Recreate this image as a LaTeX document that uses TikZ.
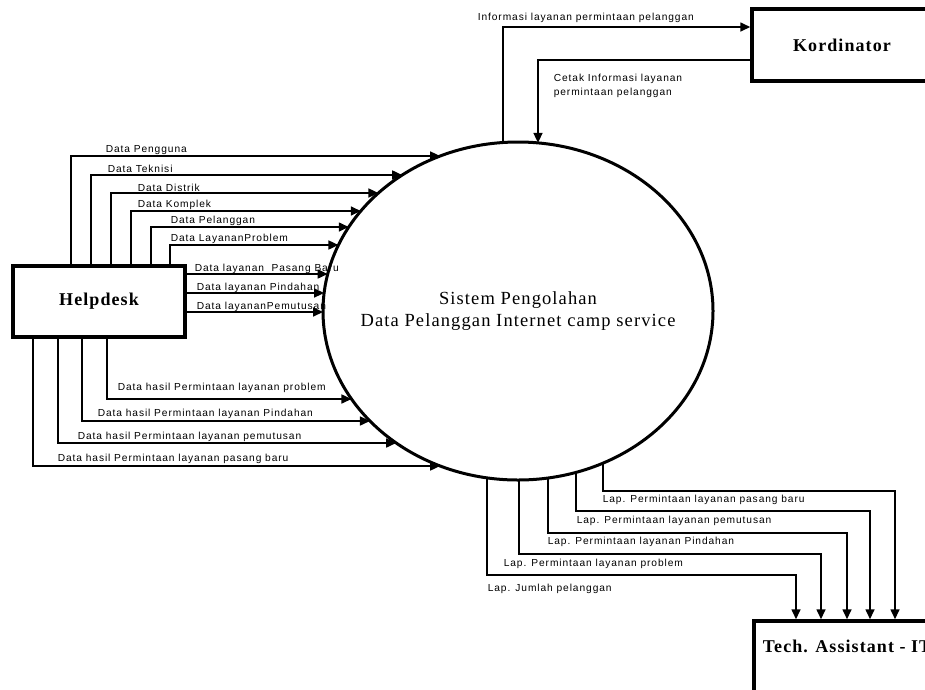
\documentclass[tikz,border=0pt]{standalone}
\usepackage{fontspec}
\setmainfont{Liberation Serif}
\newfontfamily\flowfont[LetterSpace=9]{Liberation Sans}
\newfontfamily\boxfont[LetterSpace=6]{Liberation Serif}
\usetikzlibrary{
  shapes.geometric
  , intersections
  % for the arrow tips
  , arrows.meta
  % ------
}

\begin{document}
\begin{tikzpicture}[x=1pt, y=-1pt,
    flow/.style={line width=1.6pt, -{Triangle[length=10pt,width=9pt]}},
    boxtext/.style={font=\boxfont\bfseries\fontsize{18}{20}\selectfont},
    entity/.style={draw, line width=3.5pt, boxtext,
      minimum width=#1, minimum height=72pt, inner sep=0pt},
    lbl/.style={inner sep=0pt, font=\flowfont\fontsize{10.2}{14}\selectfont}
  ]
      \clip (0,0) rectangle (925,689);

      \node [ellipse,
        name path=proc,
        draw=black, line width=3pt,
        minimum width=390pt, minimum height=338pt, inner sep=0pt,
        label={[align=center, inner sep=0pt,
          font=\boxfont\fontsize{18.5}{21.7}\selectfont]center:Sistem Pengolahan\\Data Pelanggan Internet camp service}]
        (proc) at (518,311) {};

      \node [entity=172pt, minimum height=71pt] (hd) at (99,301.5) {Helpdesk};
      \node [entity=180pt] (kord) at (842,45) {Kordinator};
      \node [entity=186pt, minimum height=120pt,
        label={[boxtext, inner sep=0pt, anchor=base, yshift=-32.75pt]north:Tech. Assistant - IT}]
        (tech) at (847,681) {};

      % Kordinator
      \path [name path=kv1] (503,0) -- (503,311);
      \path [name path=kv2] (538,0) -- (538,311);
      \path [name intersections={of=kv1 and proc,by=k1}];
      \path [name intersections={of=kv2 and proc,by=k2}];
      \draw [flow] (k1) |- (kord.west |- 0,27)
        node [lbl, anchor=base west] at (477,20) {Informasi layanan permintaan pelanggan};
      \draw [flow] (kord.west |- 0,60) -| (k2)
        node [lbl, anchor=north west, align=left] at (553,73) {Cetak Informasi layanan\\permintaan pelanggan};

      % Helpdesk, from the top
      \foreach \xv/\yh/\xl/\yl/\txt in {71/156/105/152/Data Pengguna,
          91/175/107/172/Data Teknisi, 111/193/137/191/Data Distrik,
          131/211/137/207/Data Komplek, 151/227/170/223/Data Pelanggan,
          170/245/170/241/Data LayananProblem} {
        \path [name path=h] (0,\yh) -- (518,\yh);
        \path [name intersections={of=h and proc,by=e}];
        \draw [flow] (\xv,0 |- hd.north) |- (e)
          node [lbl, anchor=base west] at (\xl,\yl) {\txt};
      }

      % Helpdesk, from the side
      \foreach \yh/\xl/\txt in {274/194/Data layanan~ Pasang Baru,
          293/196/Data layanan Pindahan, 312/196/Data layananPemutusan} {
        \path [name path=h] (0,\yh) -- (518,\yh);
        \path [name intersections={of=h and proc,by=e}];
        \draw [flow] (hd.east |- 0,\yh) -- (e)
          node [lbl, anchor=base west] at (\xl,\yh-3) {\txt};
      }

      % Helpdesk, from the bottom
      \foreach \xv/\yh/\xl/\yl/\txt in {107/399/117/390/Data hasil Permintaan layanan problem,
          82/421/97/416/Data hasil Permintaan layanan Pindahan,
          58/443/77/439/Data hasil Permintaan layanan pemutusan,
          33/466/57/461/Data hasil Permintaan layanan pasang baru} {
        \path [name path=h] (0,\yh) -- (518,\yh);
        \path [name intersections={of=h and proc,by=e}];
        \draw [flow] (\xv,0 |- hd.south) |- (e)
          node [lbl, anchor=base west] at (\xl,\yl) {\txt};
      }

      % Tech. Assistant
      \foreach \xv/\yh/\xt/\xl/\yl/\txt in {487/575/796/487/591/Lap. Jumlah pelanggan,
          519/554/821/503/566/Lap. Permintaan layanan problem,
          548/533/847/547/544/Lap. Permintaan layanan Pindahan,
          576/511/870/576/523/Lap. Permintaan layanan pemutusan,
          603/491/895/602/502/Lap. Permintaan layanan pasang baru} {
        \path [name path=v] (\xv,311) -- (\xv,689);
        \path [name intersections={of=v and proc,by=b}];
        \draw [flow] (b) |- (\xt,\yh) -- (\xt,0 |- tech.north)
          node [lbl, anchor=base west] at (\xl,\yl) {\txt};
      }
    \end{tikzpicture}
\end{document}
